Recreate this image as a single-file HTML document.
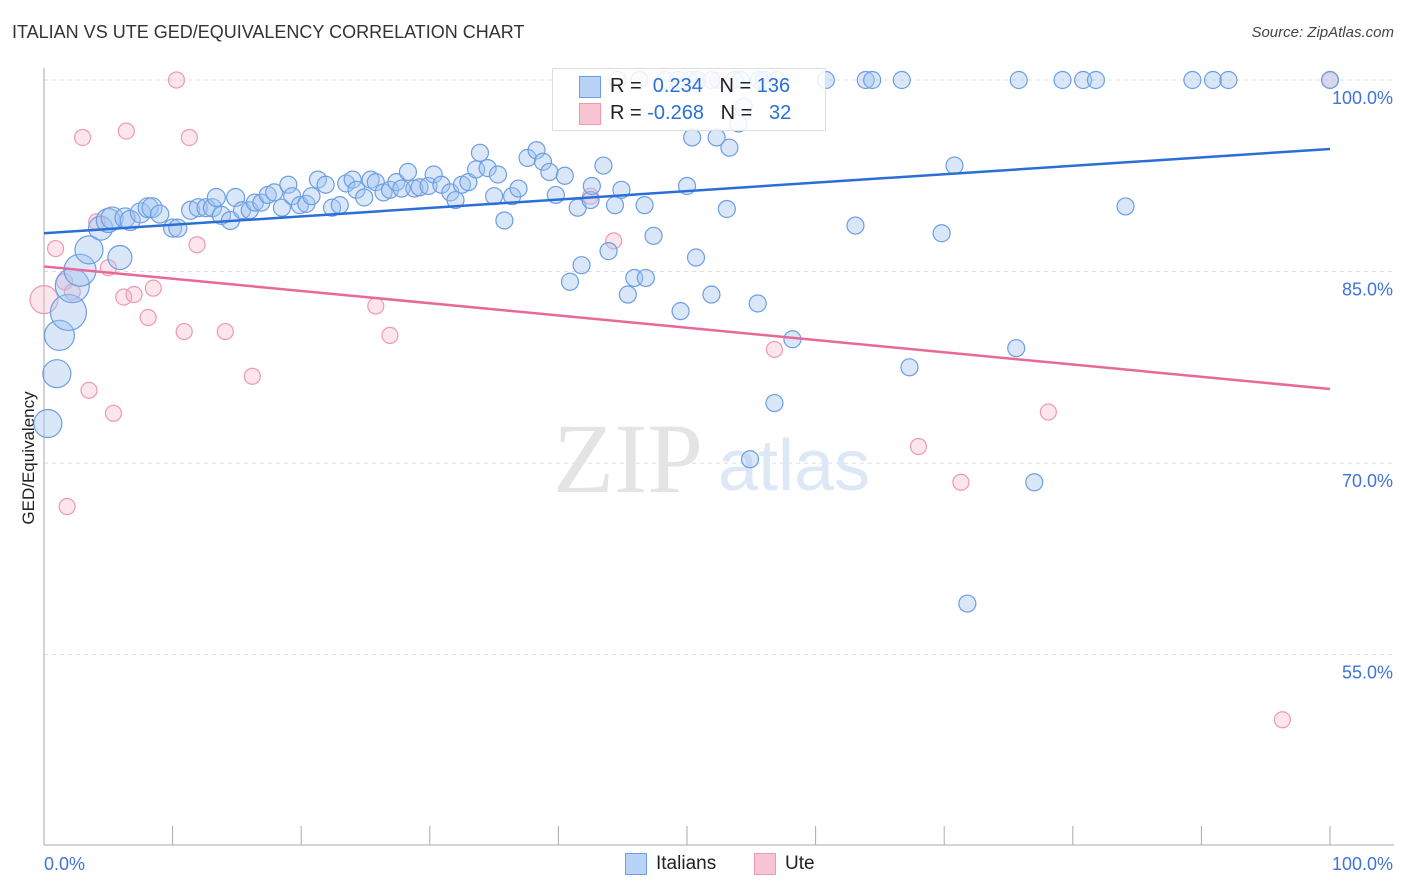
<!DOCTYPE html>
<html><head><meta charset="utf-8">
<style>
body{margin:0;background:#fff;font-family:"Liberation Sans",sans-serif;}
#wrap{position:relative;width:1406px;height:892px;overflow:hidden;}
.t{position:absolute;white-space:nowrap;}
</style></head>
<body>
<div id="wrap">
<div class="t" style="left:12px;top:22px;font-size:18px;color:#333;">ITALIAN VS UTE GED/EQUIVALENCY CORRELATION CHART</div>
<div class="t" style="right:12px;top:24px;font-size:15px;color:#444;font-style:italic;">Source: ZipAtlas.com</div>
<svg id="svg" width="1406" height="892" style="position:absolute;left:0;top:0"></svg>
</div>
<script>
const yTicks=[100,85,70,55];
const yTickLabels=["100.0%","85.0%","70.0%","55.0%"];
const italiansX=[0.3,1.0,1.2,1.9,2.2,2.8,3.5,4.4,5.9,5.0,5.3,6.3,6.7,7.5,8.1,8.4,9.0,10.0,10.4,11.4,12.0,12.6,13.1,13.4,13.8,14.5,14.9,15.4,16.0,16.4,16.9,17.4,17.9,18.5,19.0,19.3,19.9,20.4,20.8,21.3,21.9,22.4,23.0,23.5,24.0,24.3,24.9,25.4,25.8,26.4,26.9,27.4,27.8,28.3,28.8,29.2,29.9,30.3,30.9,31.6,32.0,32.5,33.0,33.6,33.9,34.5,35.0,35.3,35.8,36.4,36.9,37.6,38.3,38.8,39.3,39.8,40.5,41.5,41.8,40.9,42.5,42.6,43.5,43.9,44.4,44.9,45.4,45.9,46.8,46.7,47.4,49.5,50.0,50.4,50.7,51.9,52.3,53.1,53.3,54.0,54.4,54.9,55.5,56.8,58.2,63.1,67.3,69.8,70.8,71.8,75.6,77.0,84.1,44.6,46.3,48.3,49.3,50.2,50.8,51.9,53.7,54.2,55.6,56.0,57.0,60.8,63.9,64.4,66.7,75.8,79.2,80.8,81.8,89.3,90.9,92.1,100];
const italiansY=[73.1,77.0,80.0,81.8,83.9,85.1,86.7,88.4,86.1,89.0,89.2,89.2,89.0,89.6,90.0,90.0,89.5,88.4,88.4,89.8,90.0,90.0,90.0,90.8,89.4,89.0,90.8,89.8,89.8,90.4,90.4,91.0,91.2,90.0,91.8,90.9,90.2,90.3,90.9,92.2,91.8,90.0,90.2,91.9,92.2,91.4,90.8,92.2,92.0,91.2,91.4,92.0,91.5,92.8,91.5,91.6,91.7,92.6,91.8,91.2,90.6,91.8,92.0,93.0,94.3,93.1,90.9,92.6,89.0,90.9,91.5,93.9,94.5,93.6,92.8,91.0,92.5,90.0,85.5,84.2,90.6,91.7,93.3,86.6,90.2,91.4,83.2,84.5,84.5,90.2,87.8,81.9,91.7,95.5,86.1,83.2,95.5,89.9,94.7,96.6,97.9,70.3,82.5,74.7,79.7,88.6,77.5,88.0,93.3,59.0,79.0,68.5,90.1,100,100,100,100,100,100,100,100,100,100,100,100,100,100,100,100,100,100,100,100,100,100,100,100];
const italiansR=[14,14,15,18,17,16,14,12,12,12,11,10,10,10,10,10,9,9,9,9,9,9,9,9,9,9,9];
const uteX=[10.3,3.0,6.4,11.3,0.9,4.1,11.9,44.3,42.5,5.0,1.6,2.2,0,6.2,7.0,8.5,8.1,10.9,14.1,25.8,26.9,16.2,3.5,5.4,1.8,56.8,68.0,71.3,78.1,96.3,100,52.4];
const uteY=[100,95.5,96.0,95.5,86.8,88.9,87.1,87.4,90.9,85.3,84.2,83.4,82.8,83.0,83.2,83.7,81.4,80.3,80.3,82.3,80.0,76.8,75.7,73.9,66.6,78.9,71.3,68.5,74.0,49.9,100,100];
const uteR=[8,8,8,8,8,8,8,8,8,8,8,8,14];
const italiansTrend=[88.0,94.6];
const uteTrend=[85.4,75.8];
const X=v=>44+v*12.86, Y=v=>80+(100-v)*12.77;
const NS="http://www.w3.org/2000/svg", svg=document.getElementById('svg');
function mk(t,a){const e=document.createElementNS(NS,t);for(const k in a)e.setAttribute(k,a[k]);svg.appendChild(e);return e;}
yTicks.forEach((v,i)=>{
 const g=mk('line',{x1:44,x2:1394,y1:Y(v),y2:Y(v),stroke:'#ddd','stroke-dasharray':'4,4'});
 
 
 const t=mk('text',{x:1393,y:Y(v)+24,'text-anchor':'end','font-size':18,fill:'#3f73d8'});
 t.textContent=yTickLabels[i];
 
 
});
const ax=mk('line',{x1:44,x2:44,y1:68,y2:845,stroke:'#aaa'});

const bx=mk('line',{x1:44,x2:1394,y1:845,y2:845,stroke:'#aaa'});

for(let i=0;i<=10;i++){const l=mk('line',{x1:X(i*10),x2:X(i*10),y1:826,y2:845,stroke:'#aaa'});
}
[['0.0%',44,'start'],['100.0%',1393,'end']].forEach(a=>{const t=mk('text',{x:a[1],y:870,'text-anchor':a[2],'font-size':18,fill:'#3f73d8'});t.textContent=a[0];
});
const yt=mk('text',{x:0,y:0,'font-size':17,fill:'#222',transform:'translate(34,458) rotate(-90)','text-anchor':'middle'});
yt.textContent='GED/Equivalency';
// watermark
const w1=mk('text',{x:553,y:492,'font-size':100,fill:'#e4e4e4','font-family':'Liberation Serif'});w1.textContent='ZIP';

const w2=mk('text',{x:718,y:490,'font-size':72,fill:'#dde8f7'});w2.textContent='atlas';

uteX.forEach((v,i)=>{const c=mk('circle',{cx:X(v),cy:Y(uteY[i]),r:uteR[i]||8,fill:'rgba(248,180,200,0.35)',stroke:'#ee99b3','stroke-width':1.2});
});
italiansX.forEach((v,i)=>{const c=mk('circle',{cx:X(v),cy:Y(italiansY[i]),r:italiansR[i]||8.5,fill:'rgba(160,195,240,0.4)',stroke:'#6d9ee3','stroke-width':1.2});
});
const l1=mk('line',{x1:X(0),x2:X(100),y1:Y(italiansTrend[0]),y2:Y(italiansTrend[1]),stroke:'#2a6fd6','stroke-width':2.5});

const l2=mk('line',{x1:X(0),x2:X(100),y1:Y(uteTrend[0]),y2:Y(uteTrend[1]),stroke:'#e8689a','stroke-width':2.5});

</script>
<div class="t" style="left:552px;top:68px;width:272px;height:61px;background:rgba(255,255,255,0.85);border:1px solid #ddd;font-size:20px;">
 <div style="position:absolute;left:26px;top:7px;width:20px;height:20px;background:#b8d3f5;border:1px solid #6d9ee3"></div>
 <div class="t" style="left:57px;top:6px;color:#222">R = <span style="color:#2a6fd6">&nbsp;0.234</span>&nbsp;&nbsp; N = <span style="color:#2a6fd6">136</span></div>
 <div style="position:absolute;left:26px;top:34px;width:20px;height:20px;background:#f8c3d3;border:1px solid #ee99b3"></div>
 <div class="t" style="left:57px;top:33px;color:#222">R = <span style="color:#2a6fd6">-0.268</span>&nbsp;&nbsp; N = <span style="color:#2a6fd6">&nbsp; 32</span></div>
</div>
<div style="position:absolute;left:625px;top:853px;width:20px;height:20px;background:#b8d3f5;border:1px solid #6d9ee3"></div>
<div class="t" style="left:656px;top:853px;font-size:19px;color:#222">Italians</div>
<div style="position:absolute;left:754px;top:853px;width:20px;height:20px;background:#f8c3d3;border:1px solid #ee99b3"></div>
<div class="t" style="left:785px;top:853px;font-size:19px;color:#222">Ute</div>
</body></html>
